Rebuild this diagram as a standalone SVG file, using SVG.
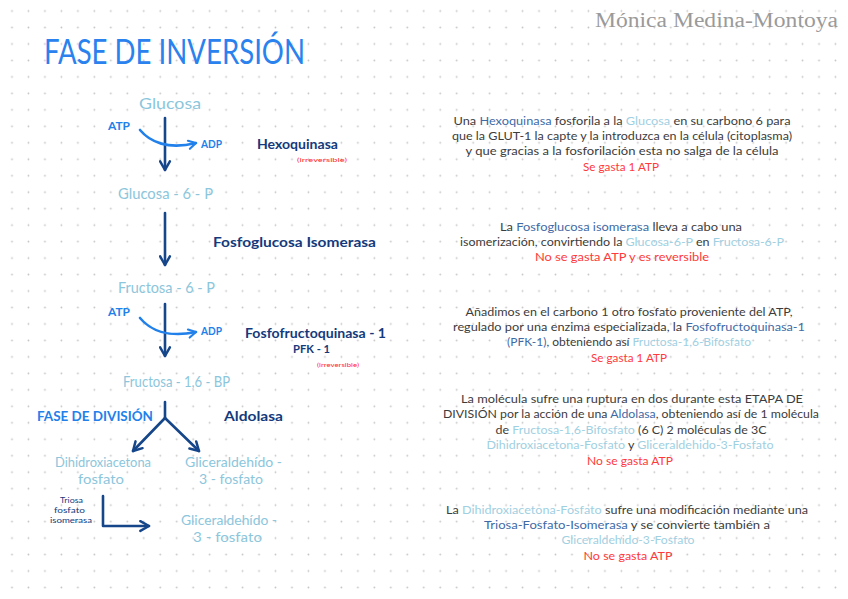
<svg xmlns="http://www.w3.org/2000/svg" width="848" height="599" viewBox="0 0 848 599">
<defs>
<pattern id="dots" x="3.8" y="2.8" width="16.47" height="16.47" patternUnits="userSpaceOnUse">
<circle cx="8.2" cy="8.2" r="0.9" fill="#c4c4c4"/>
</pattern>
<marker id="ahDark" viewBox="0 0 12 12" refX="10" refY="6" markerWidth="13" markerHeight="13" markerUnits="userSpaceOnUse" orient="auto">
<path d="M2,1.5 L10,6 L2,10.5" fill="none" stroke="#16468a" stroke-width="2.3" stroke-linecap="round" stroke-linejoin="round"/>
</marker>
<marker id="ahBright" viewBox="0 0 12 12" refX="10" refY="6" markerWidth="11" markerHeight="11" markerUnits="userSpaceOnUse" orient="auto">
<path d="M2,1.5 L10,6 L2,10.5" fill="none" stroke="#2180ea" stroke-width="2.3" stroke-linecap="round" stroke-linejoin="round"/>
</marker>
</defs>
<style>
.hand{font-family:Lato,"Open Sans","Liberation Sans",sans-serif}
.metab{fill:#8cc6dc;font-size:16px}
.metab2{fill:#8cc6dc;font-size:13.5px}
.enz{fill:#143a7c;font-size:13px;font-weight:bold}
.atp{fill:#2180ea;font-size:11px;font-weight:bold}
.irr{fill:#ff2a2a;font-size:6.5px}
.para{font-family:Lato,"Open Sans","Liberation Sans",sans-serif;font-size:11.5px;fill:#3c3c3c}
.hb{fill:#3f6aa6}
.lb{fill:#9fd0e2}
.red{fill:#ff3a3a}
.conn{fill:none;stroke:#16468a;stroke-width:2.6;stroke-linecap:round;stroke-linejoin:round}
.curve{fill:none;stroke:#2180ea;stroke-width:2.6;stroke-linecap:round}
</style>
<rect width="848" height="599" fill="#ffffff"/>
<rect width="848" height="599" fill="url(#dots)"/>

<text x="595" y="27" font-family="'Liberation Serif','DejaVu Serif',serif" font-size="20" fill="#9a9a9a" textLength="243" lengthAdjust="spacingAndGlyphs">Mónica Medina-Montoya</text>
<text class="hand" x="44" y="64" font-size="35" fill="#2a82ee" textLength="261" lengthAdjust="spacingAndGlyphs">FASE DE INVERSIÓN</text>

<g id="connectors">
<path class="conn" d="M165,118 L165,170" marker-end="url(#ahDark)"/>
<path class="curve" d="M140,130 C150,142 168,150 196,143" marker-end="url(#ahBright)"/>
<path class="conn" d="M165,213 L165,265" marker-end="url(#ahDark)"/>
<path class="conn" d="M165,304 L165,356" marker-end="url(#ahDark)"/>
<path class="curve" d="M140,318 C150,330 168,338 196,332" marker-end="url(#ahBright)"/>
<path class="conn" d="M165,402 L165,418"/>
<path class="conn" d="M165,418 L133,451" marker-end="url(#ahDark)"/>
<path class="conn" d="M165,418 L199,451" marker-end="url(#ahDark)"/>
<path class="conn" d="M103,496 L103,526 L149,526" marker-end="url(#ahDark)"/>
</g>

<g id="glucosa"><text class="hand metab" x="139" y="109" textLength="62" lengthAdjust="spacingAndGlyphs">Glucosa</text></g>
<g id="atp1"><text class="hand atp" x="108" y="130" textLength="22" lengthAdjust="spacingAndGlyphs">ATP</text></g>
<g id="adp1"><text class="hand atp" x="201" y="148" textLength="21" lengthAdjust="spacingAndGlyphs">ADP</text></g>
<g id="hexoquinasa">
<text class="hand enz" x="257" y="149" textLength="81" lengthAdjust="spacingAndGlyphs">Hexoquinasa</text>
<text class="hand irr" x="297" y="162" textLength="50" lengthAdjust="spacingAndGlyphs">(irreversible)</text>
</g>
<g id="glucosa6p"><text class="hand metab" x="118" y="199" textLength="95" lengthAdjust="spacingAndGlyphs">Glucosa - 6 - P</text></g>
<g id="fosfoglucosa-isomerasa"><text class="hand enz" x="213" y="247" textLength="163" lengthAdjust="spacingAndGlyphs">Fosfoglucosa Isomerasa</text></g>
<g id="fructosa6p"><text class="hand metab" x="118" y="293" textLength="97" lengthAdjust="spacingAndGlyphs">Fructosa - 6 - P</text></g>
<g id="atp2"><text class="hand atp" x="108" y="316" textLength="22" lengthAdjust="spacingAndGlyphs">ATP</text></g>
<g id="adp2"><text class="hand atp" x="201" y="335" textLength="21" lengthAdjust="spacingAndGlyphs">ADP</text></g>
<g id="pfk1">
<text class="hand enz" x="245" y="338" textLength="141" lengthAdjust="spacingAndGlyphs">Fosfofructoquinasa - 1</text>
<text class="hand enz" x="293" y="353" style="font-size:12px" textLength="37" lengthAdjust="spacingAndGlyphs">PFK - 1</text>
<text class="hand irr" x="317" y="367" textLength="42" lengthAdjust="spacingAndGlyphs">(irreversible)</text>
</g>
<g id="fructosa16bp"><text class="hand metab" x="123" y="387" textLength="107" lengthAdjust="spacingAndGlyphs">Fructosa - 1,6 - BP</text></g>
<g id="fase-division"><text class="hand" x="37" y="421" font-size="13" font-weight="bold" fill="#2180ea" textLength="116" lengthAdjust="spacingAndGlyphs">FASE DE DIVISIÓN</text></g>
<g id="aldolasa"><text class="hand enz" x="224" y="421" textLength="59" lengthAdjust="spacingAndGlyphs">Aldolasa</text></g>
<g id="dhap">
<text class="hand metab2" style="font-size:13px"><tspan x="55" y="467" textLength="96" lengthAdjust="spacingAndGlyphs">Dihidroxiacetona</tspan><tspan x="78" y="484" textLength="46" lengthAdjust="spacingAndGlyphs">fosfato</tspan></text>
</g>
<g id="g3p-a">
<text class="hand metab2"><tspan x="185" y="467" textLength="97" lengthAdjust="spacingAndGlyphs">Gliceraldehído -</tspan><tspan x="199" y="484" textLength="64" lengthAdjust="spacingAndGlyphs">3 - fosfato</tspan></text>
</g>
<g id="tpi">
<text class="hand" font-size="8" fill="#143a7c"><tspan x="60" y="503" textLength="23" lengthAdjust="spacingAndGlyphs">Triosa</tspan><tspan x="54" y="513" textLength="31" lengthAdjust="spacingAndGlyphs">fosfato</tspan><tspan x="50" y="523" textLength="42" lengthAdjust="spacingAndGlyphs">isomerasa</tspan></text>
</g>
<g id="g3p-b">
<text class="hand metab2"><tspan x="181" y="525" textLength="96" lengthAdjust="spacingAndGlyphs">Gliceraldehído -</tspan><tspan x="193" y="542" textLength="69" lengthAdjust="spacingAndGlyphs">3 - fosfato</tspan></text>
</g>

<g id="desc1" class="para" text-anchor="middle">
<text x="622" y="125" textLength="337" lengthAdjust="spacingAndGlyphs">Una <tspan class="hb">Hexoquinasa</tspan> fosforila a la <tspan class="lb">Glucosa</tspan> en su carbono 6 para</text>
<text x="622" y="140" textLength="340" lengthAdjust="spacingAndGlyphs">que la GLUT-1 la capte y la introduzca en la célula (citoplasma)</text>
<text x="622" y="155" textLength="313" lengthAdjust="spacingAndGlyphs">y que gracias a la fosforilación esta no salga de la célula</text>
<text x="621" y="171" class="red" textLength="76" lengthAdjust="spacingAndGlyphs">Se gasta 1 ATP</text>
</g>
<g id="desc2" class="para" text-anchor="middle">
<text x="621" y="231" textLength="242" lengthAdjust="spacingAndGlyphs">La <tspan class="hb">Fosfoglucosa isomerasa</tspan> lleva a cabo una</text>
<text x="622" y="246" textLength="324" lengthAdjust="spacingAndGlyphs">isomerización, convirtiendo la <tspan class="lb">Glucosa-6-P</tspan> en <tspan class="lb">Fructosa-6-P</tspan></text>
<text x="622" y="261" class="red" textLength="174" lengthAdjust="spacingAndGlyphs">No se gasta ATP y es reversible</text>
</g>
<g id="desc3" class="para" text-anchor="middle">
<text x="629" y="316" textLength="327" lengthAdjust="spacingAndGlyphs">Añadimos en el carbono 1 otro fosfato proveniente del ATP,</text>
<text x="629" y="331" textLength="352" lengthAdjust="spacingAndGlyphs">regulado por una enzima especializada, la <tspan class="hb">Fosfofructoquinasa-1</tspan></text>
<text x="629" y="346" textLength="244" lengthAdjust="spacingAndGlyphs"><tspan class="hb">(PFK-1)</tspan>, obteniendo así <tspan class="lb">Fructosa-1,6-Bifosfato</tspan></text>
<text x="629" y="362" class="red" textLength="76" lengthAdjust="spacingAndGlyphs">Se gasta 1 ATP</text>
</g>
<g id="desc4" class="para" text-anchor="middle">
<text x="632" y="403" textLength="342" lengthAdjust="spacingAndGlyphs">La molécula sufre una ruptura en dos durante esta ETAPA DE</text>
<text x="631" y="418" textLength="376" lengthAdjust="spacingAndGlyphs">DIVISIÓN por la acción de una <tspan class="hb">Aldolasa</tspan>, obteniendo así de 1 molécula</text>
<text x="631" y="434" textLength="271" lengthAdjust="spacingAndGlyphs">de <tspan class="lb">Fructosa-1,6-Bifosfato</tspan> (6 C) 2 moléculas de 3C</text>
<text x="630" y="449" textLength="287" lengthAdjust="spacingAndGlyphs"><tspan class="lb">Dihidroxiacetona-Fosfato</tspan> y <tspan class="lb">Gliceraldehido-3-Fosfato</tspan></text>
<text x="630" y="465" class="red" textLength="86" lengthAdjust="spacingAndGlyphs">No se gasta ATP</text>
</g>
<g id="desc5" class="para" text-anchor="middle">
<text x="627" y="514" textLength="362" lengthAdjust="spacingAndGlyphs">La <tspan class="lb">Dihidroxiacetona-Fosfato</tspan> sufre una modificación mediante una</text>
<text x="627" y="529" textLength="286" lengthAdjust="spacingAndGlyphs"><tspan class="hb">Triosa-Fosfato-Isomerasa</tspan> y se convierte también a</text>
<text x="628" y="544" class="lb" textLength="133" lengthAdjust="spacingAndGlyphs">Gliceraldehido-3-Fosfato</text>
<text x="628" y="560" class="red" textLength="89" lengthAdjust="spacingAndGlyphs">No se gasta ATP</text>
</g>
</svg>
